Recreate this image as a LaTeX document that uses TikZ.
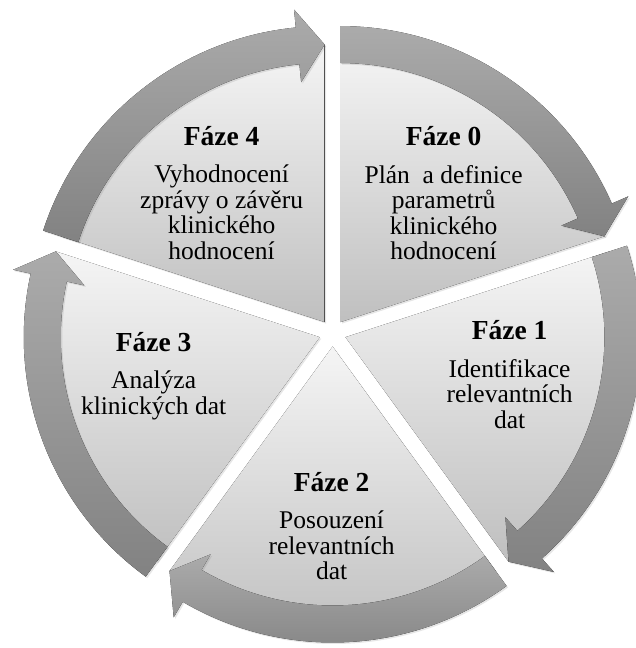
\documentclass[tikz,border=0pt]{standalone}
\usepackage{fontspec}
\setmainfont{Liberation Serif}
\usepackage{tikz}
\usetikzlibrary{positioning, shadows}

\begin{document}
\begin{tikzpicture}[
    x=1pt, y=1pt,
    sector/.style={top color=black!4, bottom color=black!25, drop shadow={opacity=0.2, shadow xshift=1.5pt, shadow yshift=-1.5pt}},
    cyclearrow/.style={top color=black!33, bottom color=black!49, drop shadow={opacity=0.2, shadow xshift=1.5pt, shadow yshift=-1.5pt}},
    phase/.style={font=\fontsize{27.5}{29}\selectfont\bfseries, inner sep=0pt},
    desc/.style={font=\fontsize{25.5}{25.5}\selectfont, align=center, inner sep=0pt}
]
    \useasboundingbox (-332.6,-315) rectangle (302.4,333);

    % Pie sectors
    \fill[sector, shift={(54:13.5)}] (0,0) -- (90:277.5) arc[start angle=90, end angle=18, radius=277.5] -- cycle;
    \fill[sector, shift={(-18:13.5)}] (0,0) -- (18:277.5) arc[start angle=18, end angle=-54, radius=277.5] -- cycle;
    \fill[sector, shift={(-90:13.5)}] (0,0) -- (-54:277.5) arc[start angle=-54, end angle=-126, radius=277.5] -- cycle;
    \fill[sector, shift={(-162:13.5)}] (0,0) -- (-126:277.5) arc[start angle=-126, end angle=-198, radius=277.5] -- cycle;
    \fill[sector, shift={(126:13.5)}] (0,0) -- (162:277.5) arc[start angle=162, end angle=90, radius=277.5] -- cycle;

    % Cycle arrows
    \fill[cyclearrow, shift={(54:13.5)}] (90:296) arc[start angle=90, end angle=23.6, radius=296] -- (23.6:314) -- (18:277.5) -- (23.6:241) -- (23.6:259) arc[start angle=23.6, end angle=90, radius=259] -- cycle;
    \fill[cyclearrow, shift={(-18:13.5)}] (18:296) arc[start angle=18, end angle=-48.4, radius=296] -- (-48.4:314) -- (-54:277.5) -- (-48.4:241) -- (-48.4:259) arc[start angle=-48.4, end angle=18, radius=259] -- cycle;
    \fill[cyclearrow, shift={(-90:13.5)}] (-54:296) arc[start angle=-54, end angle=-120.4, radius=296] -- (-120.4:314) -- (-126:277.5) -- (-120.4:241) -- (-120.4:259) arc[start angle=-120.4, end angle=-54, radius=259] -- cycle;
    \fill[cyclearrow, shift={(-162:13.5)}] (-126:296) arc[start angle=-126, end angle=-192.4, radius=296] -- (-192.4:314) -- (-198:277.5) -- (-192.4:241) -- (-192.4:259) arc[start angle=-192.4, end angle=-126, radius=259] -- cycle;
    \fill[cyclearrow, shift={(126:13.5)}] (162:296) arc[start angle=162, end angle=95.6, radius=296] -- (95.6:314) -- (90:277.5) -- (95.6:241) -- (95.6:259) arc[start angle=95.6, end angle=162, radius=259] -- cycle;

    % Phase titles and descriptions
    \node[phase] (p0) at (111,197) {Fáze 0};
    \node[desc, below=19pt of p0] (d0) {Plán\ \ a definice\\parametrů\\klinického\\hodnocení};
    \node[phase] (p1) at (177,3) {Fáze 1};
    \node[desc, below=19pt of p1] (d1) {Identifikace\\relevantních\\dat};
    \node[phase] (p2) at (-1,-149) {Fáze 2};
    \node[desc, below=19pt of p2] (d2) {Posouzení\\relevantních\\dat};
    \node[phase] (p3) at (-179,-9) {Fáze 3};
    \node[desc, below=19pt of p3] (d3) {Analýza\\klinických dat};
    \node[phase] (p4) at (-111,197) {Fáze 4};
    \node[desc, below=19pt of p4] (d4) {Vyhodnocení\\zprávy o závěru\\klinického\\hodnocení};
\end{tikzpicture}
\end{document}
